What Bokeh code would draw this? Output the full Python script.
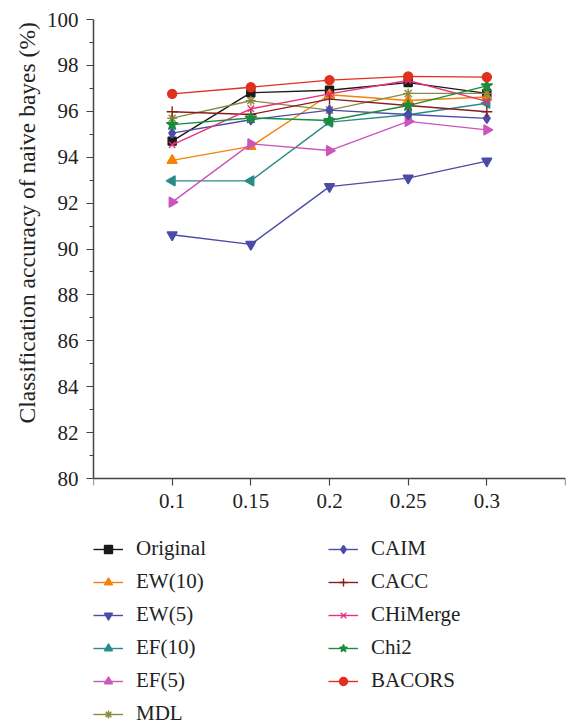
import math
from bokeh.plotting import figure
from bokeh.models import Range1d, FixedTicker, Legend, LegendItem, Title
from bokeh.embed import file_html
from bokeh.resources import INLINE

# ---- data ----
x_vals = [0.1, 0.15, 0.2, 0.25, 0.3]
x_tick_vals = [0.05, 0.1, 0.15, 0.2, 0.25, 0.3, 0.35]
x_tick_labels = ["", "0.1", "0.15", "0.2", "0.25", "0.3", ""]
y_tick_vals = [80, 82, 84, 86, 88, 90, 92, 94, 96, 98, 100]
y_label = "Classification accuracy of naive bayes (%)"

names = ["Original", "EW(10)", "EW(5)", "EF(10)", "EF(5)", "MDL",
         "CAIM", "CACC", "CHiMerge", "Chi2", "BACORS"]
original = [94.70, 96.81, 96.92, 97.25, 96.78]
ew10 = [93.86, 94.47, 96.72, 96.47, 96.62]
ew5 = [90.62, 90.20, 92.72, 93.09, 93.83]
ef10 = [92.97, 92.97, 95.53, 95.85, 96.35]
ef5 = [92.04, 94.58, 94.29, 95.56, 95.19]
mdl = [95.70, 96.46, 96.05, 96.78, 96.78]
caim = [95.05, 95.63, 96.05, 95.86, 95.69]
cacc = [95.98, 95.86, 96.53, 96.25, 95.98]
chimerge = [94.54, 96.11, 96.76, 97.34, 96.43]
chi2 = [95.42, 95.71, 95.60, 96.25, 97.11]
bacors = [96.76, 97.05, 97.36, 97.52, 97.49]
series = [original, ew10, ew5, ef10, ef5, mdl, caim, cacc, chimerge, chi2, bacors]

colors = ["#1a1a1a", "#f5820d", "#4b4ba8", "#2a8c88", "#cc55bb", "#8c8a3c",
          "#4b4ba8", "#8b1c1c", "#e8307c", "#1b8c3c", "#e0301e"]
markers = ["square", "triangle", "inverted_triangle", "triangle", "triangle", "asterisk",
           "diamond", "cross", "x", "star", "circle"]
angles = [0, 0, 0, math.pi / 2, -math.pi / 2, 0, 0, 0, 0, 0, 0]
sizes = [8, 10, 10, 10, 10, 10, 10, 11, 9, 12, 9]

FONT = "Liberation Serif"

# frame spans from the 100 line down to the bottom of the page; the value axis
# is bounded to 80..100 and the x axis is pinned at y = 80
Y_TOP = 100
Y_AXIS_MIN = 80
FRAME_TOP_PX = 19
AXIS_PX = 459
HEIGHT = 724
y_start = Y_TOP - (HEIGHT - FRAME_TOP_PX) / AXIS_PX * (Y_TOP - Y_AXIS_MIN)

p = figure(width=569, height=HEIGHT, output_backend="svg", toolbar_location=None,
           x_range=Range1d(0.05, 0.35), y_range=Range1d(y_start, Y_TOP),
           min_border_left=93, min_border_right=4, min_border_top=FRAME_TOP_PX,
           min_border_bottom=0)
p.outline_line_color = None
p.xgrid.visible = False
p.ygrid.visible = False
p.background_fill_color = "white"
p.border_fill_color = "white"

items = []
for name, ys, c, m, a, s in zip(names, series, colors, markers, angles, sizes):
    lr = p.line(x_vals, ys, line_color=c, line_width=1.4)
    sr = p.scatter(x_vals, ys, marker=m, angle=a, size=s, fill_color=c,
                   line_color=c, line_width=1.4)
    items.append(LegendItem(label=name, renderers=[lr, sr]))

# axes
for ax in (p.xaxis[0], p.yaxis[0]):
    ax.axis_line_color = "#444444"
    ax.axis_line_width = 1.5
    ax.major_tick_line_color = "#444444"
    ax.minor_tick_line_color = "#444444"
    ax.major_tick_line_width = 1.2
    ax.minor_tick_line_width = 1.2
    ax.major_tick_out = 7
    ax.major_tick_in = 0
    ax.minor_tick_out = 4
    ax.minor_tick_in = 0
    ax.major_label_text_font = FONT
    ax.major_label_text_font_size = "21px"
    ax.major_label_text_color = "#222222"

p.xaxis.ticker = FixedTicker(ticks=x_tick_vals)
p.xaxis.major_label_overrides = {v: l for v, l in zip(x_tick_vals, x_tick_labels)}
p.xaxis.major_label_standoff = 8
p.xaxis.fixed_location = Y_AXIS_MIN

p.yaxis.ticker = FixedTicker(ticks=y_tick_vals, minor_ticks=list(range(81, 100, 2)))
p.yaxis.bounds = (Y_AXIS_MIN, Y_TOP)
p.yaxis.major_label_standoff = 8

# value-axis title, positioned along the 80..100 span (offset from frame bottom)
ytitle = Title(text=y_label, align="left", offset=HEIGHT - 423,
               text_font=FONT, text_font_size="23.5px", text_font_style="normal",
               text_color="#222222", standoff=8)
p.add_layout(ytitle, "left")

legend = Legend(items=items, location=(0, -2), orientation="vertical", nrows=6,
                padding=0, margin=0, spacing=8, label_height=20, glyph_height=20,
                glyph_width=30, label_standoff=13, label_width=184,
                label_text_font=FONT, label_text_font_size="21px",
                label_text_color="#222222", border_line_color=None,
                background_fill_alpha=0)
p.add_layout(legend, "center")

open("out.html", "w").write(file_html(p, INLINE))
